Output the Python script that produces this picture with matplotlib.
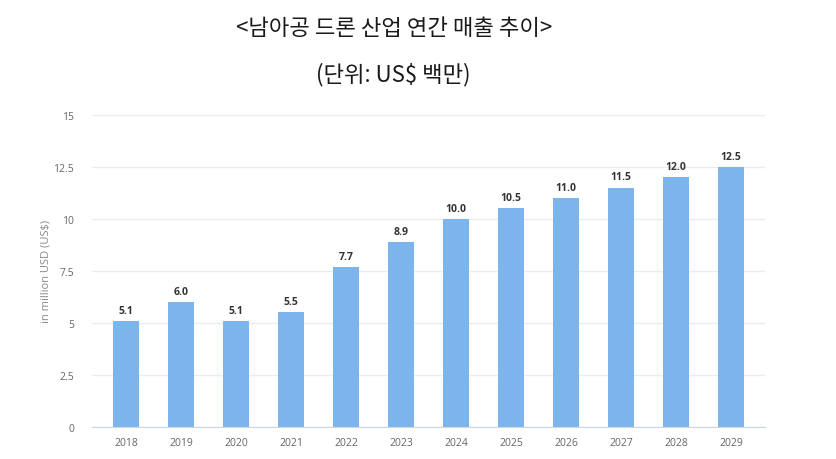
import matplotlib
matplotlib.use("Agg")
import matplotlib.pyplot as plt
import numpy as np

# 연도별 매출 (US$ 백만)
years = ["2018", "2019", "2020", "2021", "2022", "2023",
         "2024", "2025", "2026", "2027", "2028", "2029"]
revenue = [5.1, 6.0, 5.1, 5.5, 7.7, 8.9, 10.0, 10.5, 11.0, 11.5, 12.0, 12.5]
y_ticks = [0, 2.5, 5, 7.5, 10, 12.5, 15]
y_tick_labels = ["0", "2.5", "5", "7.5", "10", "12.5", "15"]

title_main = "<남아공 드론 산업 연간 매출 추이>"
title_unit = "(단위: US$ 백만)"
y_label = "in million USD (US$)"

BAR_COLOR = "#7cb5ec"
GRID_COLOR = "#ececec"
TICK_COLOR = "#666666"

fig = plt.figure(figsize=(8.36, 4.6), dpi=100)
ax = fig.add_axes([0.110, 0.070, 0.805, 0.678])

x = np.arange(len(years))
ax.bar(x, revenue, width=0.47, color=BAR_COLOR, zorder=2)

# 막대 위 값 표시
for xi, v in zip(x, revenue):
    ax.text(xi, v + 0.25, f"{v:.1f}", ha="center", va="bottom",
            fontsize=7.5, fontweight="bold", color="#333333",
            family=["Open Sans", "DejaVu Sans"])

ax.set_xlim(-0.62, len(years) - 1 + 0.62)
ax.set_ylim(0, 15)
ax.set_yticks(y_ticks)
ax.set_yticklabels(y_tick_labels)
ax.set_xticks(x)
ax.set_xticklabels(years)

for lab in ax.get_xticklabels() + ax.get_yticklabels():
    lab.set_family(["Open Sans", "DejaVu Sans"])
    lab.set_fontsize(7.5)
    lab.set_color(TICK_COLOR)

ax.tick_params(axis="both", length=0)
ax.tick_params(axis="x", pad=7)
ax.tick_params(axis="y", pad=13)
ax.yaxis.grid(True, color=GRID_COLOR, linewidth=1, zorder=0)
ax.set_axisbelow(True)
for side in ["top", "right", "left"]:
    ax.spines[side].set_visible(False)
ax.spines["bottom"].set_color("#ccd6eb")

ax.set_ylabel(y_label, fontsize=8, color="#888888",
              family=["Open Sans", "DejaVu Sans"], labelpad=1)

fig.text(0.471, 0.937, title_main, ha="center", va="center", fontsize=16,
         family=["Noto Sans CJK KR", "DejaVu Sans"], fontweight="medium", color="#1a1a1a")
fig.text(0.470, 0.837, title_unit, ha="center", va="center", fontsize=16,
         family=["Noto Sans CJK KR", "DejaVu Sans"], fontweight="medium", color="#1a1a1a")

fig.savefig("out.png", dpi=100)
